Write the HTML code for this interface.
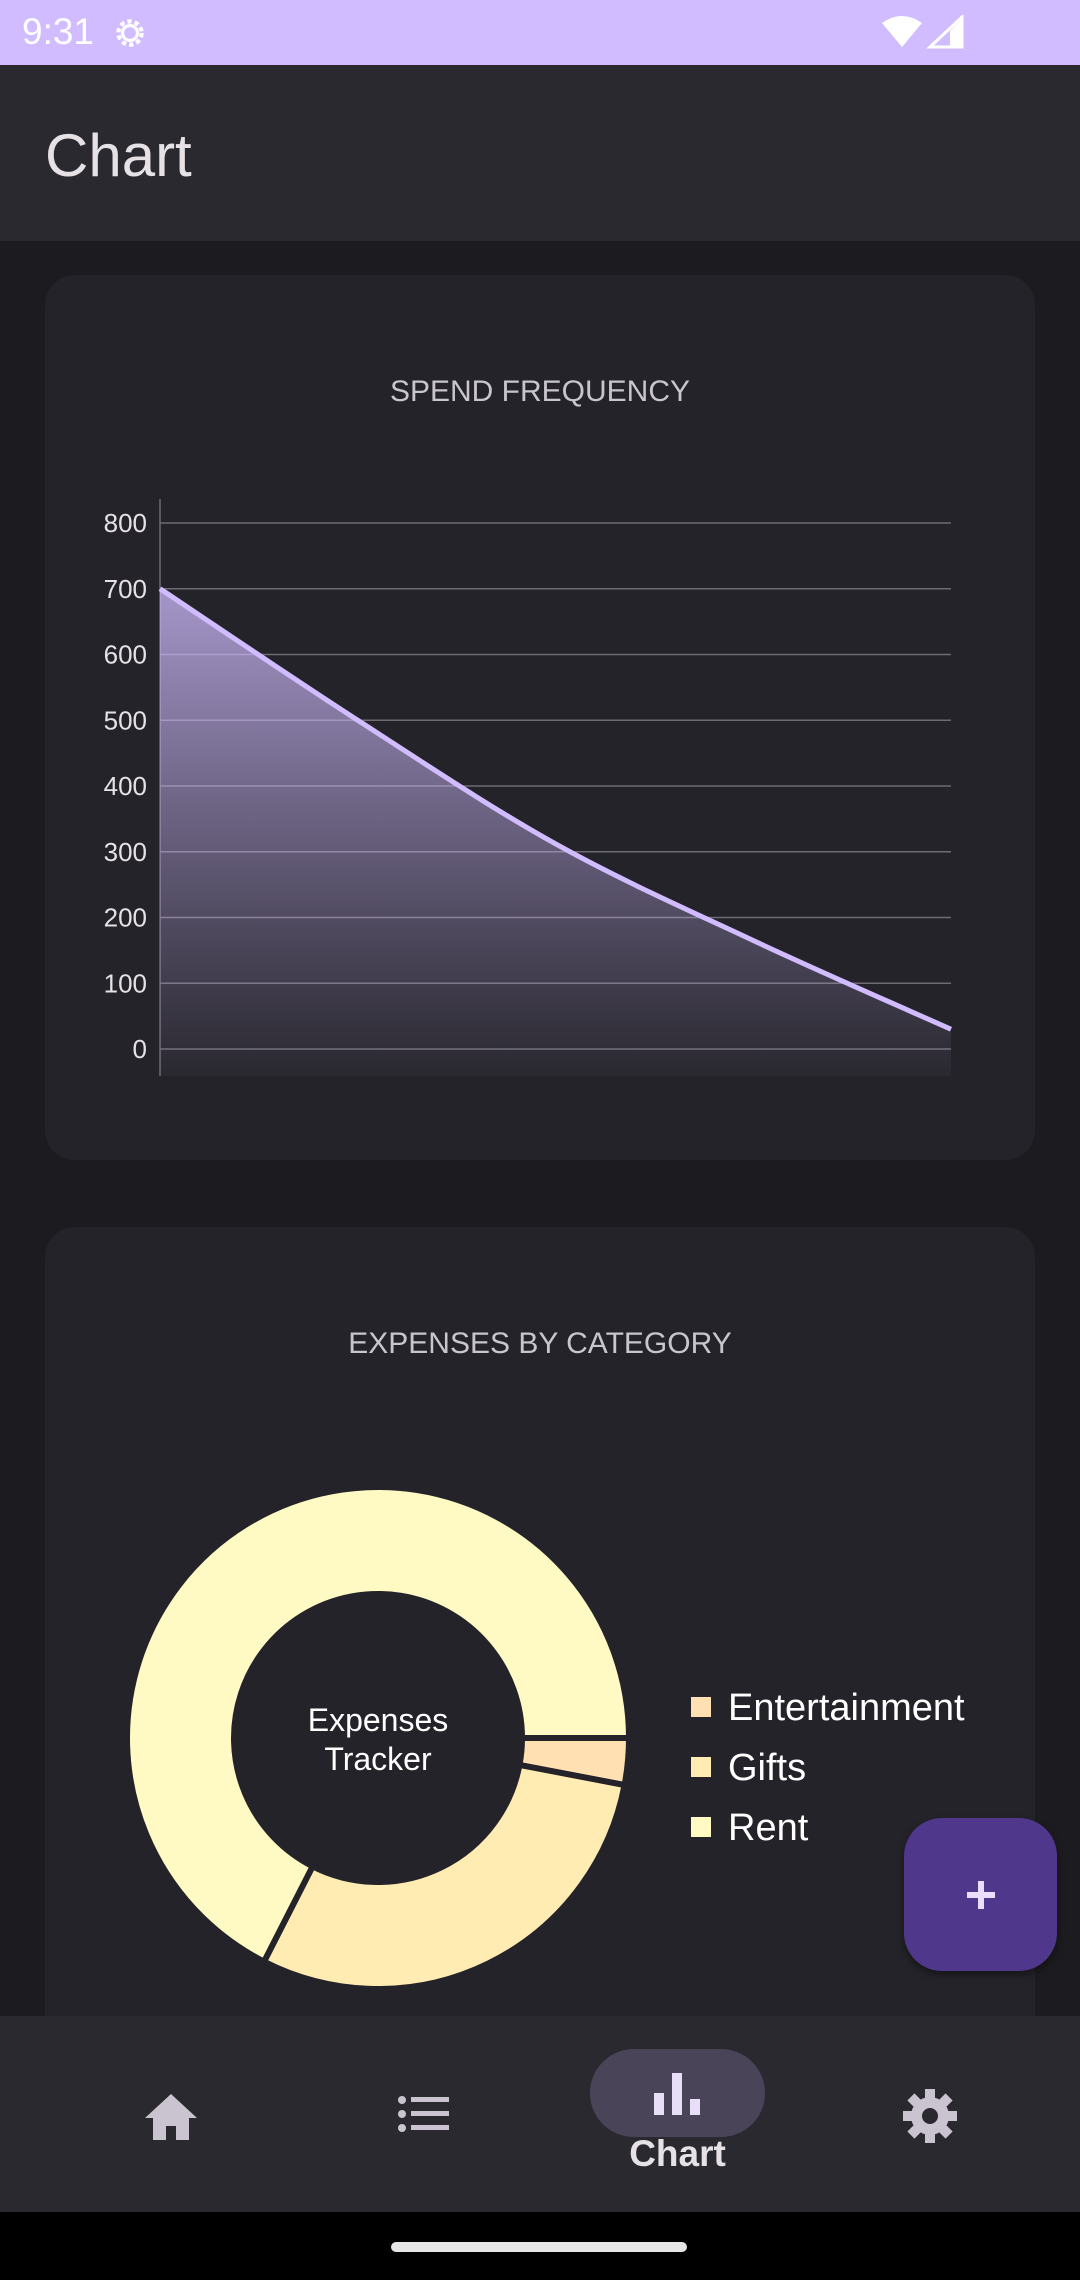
<!DOCTYPE html>
<html><head><meta charset="utf-8"><style>
html,body{margin:0;padding:0;}
body{width:1080px;height:2280px;background:#1c1b1f;position:relative;overflow:hidden;font-family:"Liberation Sans",sans-serif;}
.abs{position:absolute;}
</style></head><body>
<div class="abs" style="left:0;top:0;width:1080px;height:65px;background:#d0bcff;">
  <div class="abs" style="left:22px;top:11px;font-size:37px;color:#fff;">9:31</div>
  <svg class="abs" style="left:112px;top:15px" width="36" height="36" viewBox="0 0 34 34"><circle cx="17" cy="17" r="11" fill="none" stroke="#fff" stroke-width="4" stroke-dasharray="4 3"/><circle cx="17" cy="17" r="7" fill="none" stroke="#fff" stroke-width="3"/></svg>
  <svg class="abs" style="left:880px;top:15px" width="84" height="36" viewBox="0 0 84 36"><path d="M2 8 Q22 -6 42 8 L22 32 Z" fill="#fff"/><path d="M82 2 L82 32 L50 32 Z" fill="none" stroke="#fff" stroke-width="3"/><path d="M70 16 L70 32 L82 32 L82 4 Z" fill="#fff"/></svg>
</div>
<div class="abs" style="left:0;top:65px;width:1080px;height:176px;background:#2b2930;">
  <div class="abs" style="left:45px;top:56px;font-size:60px;color:#e6e1e5;">Chart</div>
</div>

<div class="abs" style="left:45px;top:275px;width:990px;height:885px;background:#242329;border-radius:30px;"></div>
<div class="abs" style="left:45px;top:375px;width:990px;text-align:center;font-size:30px;color:#c9c5cc;">SPEND FREQUENCY</div>
<svg class="abs" id="line" style="left:0;top:0" width="1080" height="1160"></svg>

<div class="abs" style="left:45px;top:1227px;width:990px;height:900px;background:#242329;border-radius:30px 30px 0 0;"></div>
<div class="abs" style="left:45px;top:1327px;width:990px;text-align:center;font-size:30px;color:#c9c5cc;">EXPENSES BY CATEGORY</div>
<svg class="abs" id="donut" style="left:0;top:0" width="1080" height="2016"></svg>
<div class="abs" style="left:268px;top:1701px;width:220px;text-align:center;font-size:32px;line-height:39px;color:#fff;">Expenses<br>Tracker</div>
<div class="abs" id="legend" style="left:691px;top:1679px;"></div>

<div class="abs" style="left:904px;top:1818px;width:153px;height:153px;border-radius:38px;background:#4f378b;box-shadow:0 4px 8px rgba(0,0,0,.4);">
  <div class="abs" style="left:63px;top:74px;width:28px;height:6px;background:#eaddff;"></div>
  <div class="abs" style="left:74px;top:63px;width:6px;height:28px;background:#eaddff;"></div>
</div>

<div class="abs" style="left:0;top:2016px;width:1080px;height:196px;background:#2b2930;">
  <svg class="abs" style="left:143px;top:72px" width="56" height="56" viewBox="0 0 56 56"><path d="M28 6 L2 30 H10 V52 H23 V38 H33 V52 H46 V30 H54 Z" fill="#cac4d0"/></svg>
  <svg class="abs" style="left:397px;top:76px" width="56" height="48" viewBox="0 0 56 48"><g fill="#cac4d0"><circle cx="5" cy="8" r="4"/><circle cx="5" cy="22" r="4"/><circle cx="5" cy="36" r="4"/><rect x="14" y="5" width="38" height="5"/><rect x="14" y="19" width="38" height="5"/><rect x="14" y="33" width="38" height="5"/></g></svg>
  <div class="abs" style="left:590px;top:33px;width:175px;height:88px;border-radius:44px;background:#4a4458;">
    <svg class="abs" style="left:62px;top:22px" width="50" height="44"><g fill="#e8def8"><rect x="2" y="22" width="10" height="22"/><rect x="20" y="2" width="10" height="42"/><rect x="38" y="28" width="10" height="16"/></g></svg>
  </div>
  <div class="abs" style="left:590px;top:117px;width:175px;text-align:center;font-size:37px;font-weight:bold;color:#e6e1e5;">Chart</div>
  <svg class="abs" style="left:902px;top:72px" width="56" height="56" viewBox="0 0 56 56"><g fill="#cac4d0"><circle cx="28" cy="28" r="19"/><g id="t"><rect x="23" y="1" width="10" height="12"/><rect x="23" y="43" width="10" height="12"/></g><use href="#t" transform="rotate(45 28 28)"/><use href="#t" transform="rotate(90 28 28)"/><use href="#t" transform="rotate(135 28 28)"/></g><circle cx="28" cy="28" r="8" fill="#2b2930"/></svg>
</div>
<div class="abs" style="left:0;top:2212px;width:1080px;height:68px;background:#000;">
  <div class="abs" style="left:391px;top:30px;width:296px;height:10px;border-radius:5px;background:#e6e6e6;"></div>
</div>

<script>
const xCategories = [0, 1, 2, 3, 4];
const spendValues = [700, 500, 312, 165, 30];
const yTicks = [0, 100, 200, 300, 400, 500, 600, 700, 800];
const slices = ["Entertainment", "Gifts", "Rent"];
const sliceValues = [3, 29.5, 67.5];
const sliceColors = ["#ffe0b2", "#ffecb3", "#fff9c4"];

const NS = "http://www.w3.org/2000/svg";
function mk(tag, attrs, parent){const e=document.createElementNS(NS,tag);for(const k in attrs)e.setAttribute(k,attrs[k]);parent.appendChild(e);return e;}

// line chart
const L = document.getElementById('line');
const x0=160,x1=951,yBase=1049,yPer=0.6575;
const xs = i => x0 + (x1-x0)*i/(xCategories.length-1);
const ys = v => yBase - v*yPer;
const defs = mk('defs',{},L);
const g = mk('linearGradient',{id:'fill',x1:0,y1:0,x2:0,y2:1},defs);
mk('stop',{offset:0,'stop-color':'#d0bcff','stop-opacity':0.75},g);
mk('stop',{offset:1,'stop-color':'#d0bcff','stop-opacity':0.03},g);
yTicks.forEach(t=>{
  const ln=mk('line',{x1:x0,x2:x1,y1:ys(t),y2:ys(t),stroke:'#6e6b73','stroke-width':1.5},L);
  
  
  const tx=mk('text',{x:147,y:ys(t)+9,'text-anchor':'end','font-size':26,fill:'#e6e1e5','font-family':'Liberation Sans, sans-serif'},L);
  tx.textContent=t;
  
  
});
const ax=mk('line',{x1:x0,x2:x0,y1:499,y2:1076,stroke:'#6e6b73','stroke-width':1.5},L);


const pts = spendValues.map((v,i)=>[xs(i),ys(v)]);
let d='M'+pts[0][0]+' '+pts[0][1];
for(let i=0;i<pts.length-1;i++){
  const p0=pts[Math.max(0,i-1)],p1=pts[i],p2=pts[i+1],p3=pts[Math.min(pts.length-1,i+2)];
  const c1=[p1[0]+(p2[0]-p0[0])/6,p1[1]+(p2[1]-p0[1])/6];
  const c2=[p2[0]-(p3[0]-p1[0])/6,p2[1]-(p3[1]-p1[1])/6];
  d+=` C${c1[0]} ${c1[1]} ${c2[0]} ${c2[1]} ${p2[0]} ${p2[1]}`;
}
const area=mk('path',{d:d+` L${x1} 1076 L${x0} 1076 Z`,fill:'url(#fill)'},L);


const line=mk('path',{d:d,fill:'none',stroke:'#d0bcff','stroke-width':5},L);



// donut
const D=document.getElementById('donut');
const cx=378,cy=1738,R=251,r=144;
const total=sliceValues.reduce((a,b)=>a+b,0);
let a0=0;
sliceValues.forEach((v,i)=>{
  const a1=a0+v/total*2*Math.PI;
  const large=(a1-a0)>Math.PI?1:0;
  const P=(rad,a)=>[cx+rad*Math.cos(a),cy+rad*Math.sin(a)];
  const [ox0,oy0]=P(R,a0),[ox1,oy1]=P(R,a1),[ix1,iy1]=P(r,a1),[ix0,iy0]=P(r,a0);
  const p=mk('path',{d:`M${ox0} ${oy0} A${R} ${R} 0 ${large} 1 ${ox1} ${oy1} L${ix1} ${iy1} A${r} ${r} 0 ${large} 0 ${ix0} ${iy0} Z`,fill:sliceColors[i],stroke:'#242329','stroke-width':6},D);
  
  
  a0=a1;
});
const leg=document.getElementById('legend');
slices.forEach((s,i)=>{
  const row=document.createElement('div');
  
  
  row.style.cssText=`position:absolute;left:0;top:${i*60}px;white-space:nowrap;font-size:38px;color:#fff;height:58px;line-height:58px;`;
  row.innerHTML=`<span style="display:inline-block;width:20px;height:20px;background:${sliceColors[i]};margin-right:17px;vertical-align:middle;position:relative;top:-3px"></span>${s}`;
  leg.appendChild(row);
});
</script>
</body></html>
